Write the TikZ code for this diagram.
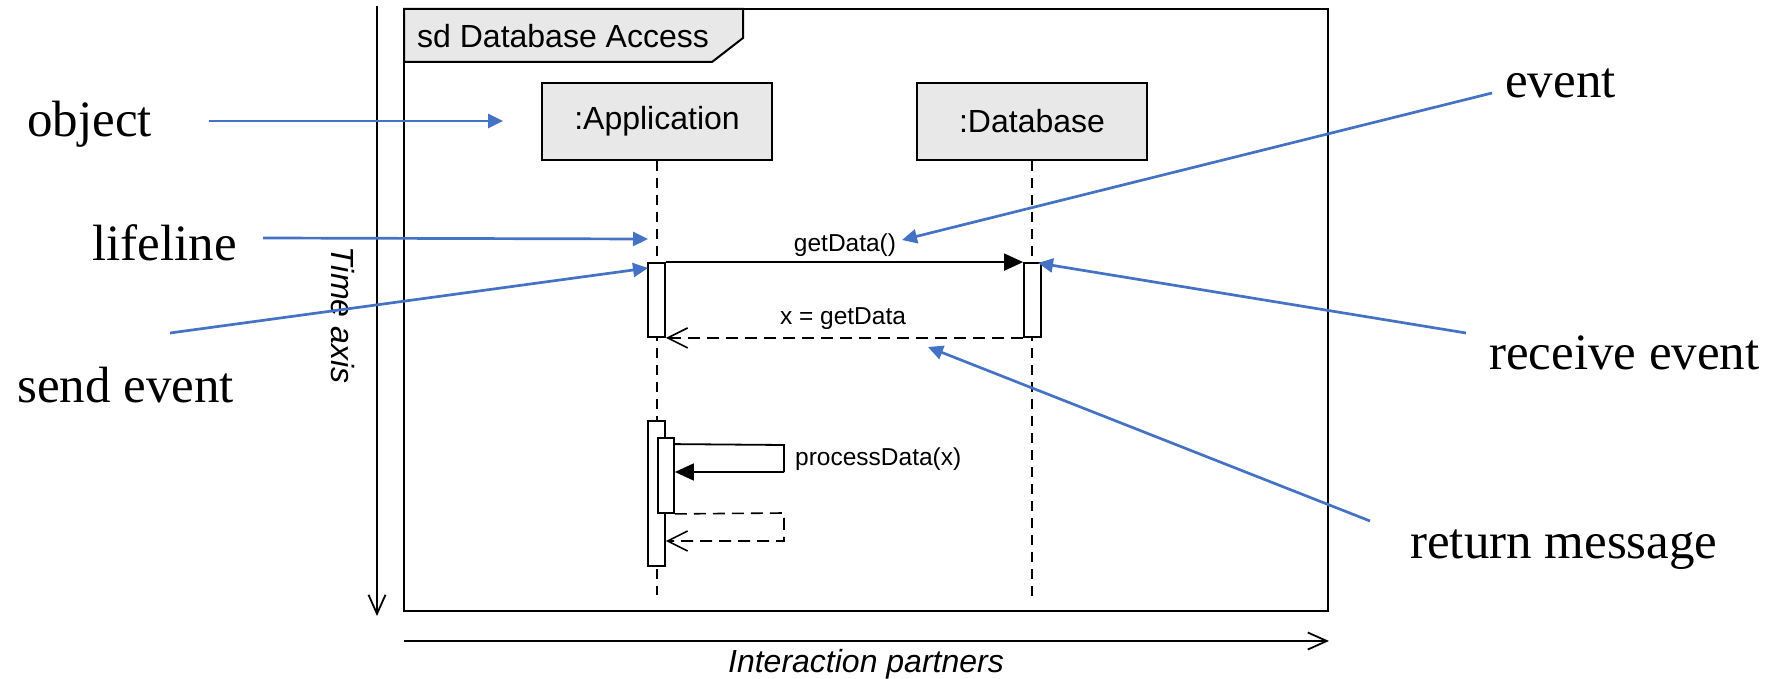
\documentclass[tikz,border=0pt]{standalone}
\usepackage{fontspec}
\setmainfont{Liberation Serif}
\newfontfamily\umlfont{Liberation Sans}
\usetikzlibrary{arrows.meta}

\definecolor{notecol}{RGB}{68,114,196}
\definecolor{boxgray}{RGB}{232,232,232}

\tikzset{
  umltext/.style={font=\umlfont\fontsize{32}{38}\selectfont, inner sep=0pt},
  msgtext/.style={font=\umlfont\fontsize{24.5}{29}\selectfont, inner sep=0pt},
  notetext/.style={font=\fontsize{51}{61}\selectfont, inner sep=0pt, anchor=base west},
  objbox/.style={draw, line width=2pt, fill=boxgray, minimum width=230pt, minimum height=77pt, inner sep=0pt,
    font=\umlfont\fontsize{32}{38}\selectfont},
  actbox/.style={draw, line width=1.8pt, fill=white, inner sep=0pt},
  lifelinestyle/.style={line width=1.8pt, dash pattern=on 10pt off 7pt},
  syncmsg/.style={line width=1.8pt, -{Triangle[length=19pt,width=17pt]}},
  retmsg/.style={line width=1.6pt, dash pattern=on 12pt off 7pt, -{Straight Barb[length=20pt,width=20pt,line width=1.6pt]}},
  selfmsg/.style={line width=1.8pt},
  axisline/.style={line width=1.8pt, -{Straight Barb[length=19pt,width=17pt,line width=1.8pt]}},
  notearrow/.style={notecol, line width=2.7pt, -{Triangle[length=15pt,width=14pt]}}
}

\begin{document}
\begin{tikzpicture}[x=1pt, y=-1pt]
\useasboundingbox (0,0) rectangle (1775,679);

% interaction frame and its name tab
\draw[line width=2pt] (404,9) rectangle (1328,611);
\draw[line width=2pt, fill=boxgray] (404,9) -- (743,9) -- (743,38) -- (712,62) -- (404,62) -- cycle;
\node[umltext, anchor=west] (title) at (417,36) {sd Database Access};

% participants
\node[objbox] (app) at (657,121.5) {:Application};
\node[objbox] (db) at (1032,121.5) {:Database};

% lifelines
\coordinate (appEnd) at (657,595);
\coordinate (dbEnd) at (1032,596);
\draw[lifelinestyle] (app.south) -- (appEnd);
\draw[lifelinestyle] (db.south) -- (dbEnd);

% execution specifications
\node[actbox, minimum width=17pt, minimum height=74pt] (act1) at (656.5,300) {};
\node[actbox, minimum width=17pt, minimum height=74pt] (act2) at (1032.5,300) {};
\node[actbox, minimum width=17pt, minimum height=145pt] (act3) at (656.5,493.5) {};
\node[actbox, minimum width=16pt, minimum height=75pt] (act4) at (666,475.5) {};

% call and reply between participants
\draw[syncmsg] (act1.north east) -- (act2.north west);
\node[msgtext] (getlbl) at (845,245) {getData()};
\draw[retmsg] (act2.south west) -- (act1.south east);
\node[msgtext] (retlbl) at (843,319) {x = getData};

% self call and its reply
\coordinate (sc1) at (784,445);
\coordinate (sc2) at (784,472);
\draw[selfmsg] ([yshift=-7pt]act4.north east) -- (sc1) -- (sc2);
\draw[syncmsg] (sc2) -- (act4.east |- sc2);
\node[msgtext, anchor=west] (proclbl) at (795,459) {processData(x)};
\coordinate (rc1) at (784,513);
\coordinate (rc2) at (784,541);
\draw[retmsg] (act4.south east) -- (rc1) -- (rc2) -- (act3.east |- rc2);

% axes
\coordinate (ta1) at (377,6);
\coordinate (ta2) at (377,616);
\draw[axisline] (ta1) -- (ta2);
\node[umltext, font=\umlfont\itshape\fontsize{32}{38}\selectfont, rotate=-90] (timelbl) at (343,315) {Time axis};
\coordinate (ia1) at (404,641);
\coordinate (ia2) at (1329,641);
\draw[axisline] (ia1) -- (ia2);
\node[umltext, font=\umlfont\itshape\fontsize{32}{38}\selectfont] (ialbl) at (866,664) {Interaction partners};

% annotations
\node[notetext] (nObject) at (27,137) {object};
\node[notetext] (nLifeline) at (92,260) {lifeline};
\node[notetext] (nSend) at (17,402) {send event};
\node[notetext] (nEvent) at (1505,98) {event};
\node[notetext] (nReceive) at (1489,369) {receive event};
\node[notetext] (nReturn) at (1410,558) {return message};

\coordinate (oS) at (209,121);  \coordinate (oT) at (503,121);
\coordinate (lS) at (263,238);  \coordinate (lT) at (648,239);
\coordinate (sS) at (170,333);  \coordinate (sT) at (648,268);
\coordinate (eS) at (1492,93);  \coordinate (eT) at (902,240);
\coordinate (rS) at (1466,333); \coordinate (rT) at (1038,263);
\coordinate (mS) at (1370,521); \coordinate (mT) at (928,347);

\draw[notearrow] (oS) -- (oT);
\draw[notearrow] (lS) -- (lT);
\draw[notearrow] (sS) -- (sT);
\draw[notearrow] (eS) -- (eT);
\draw[notearrow] (rS) -- (rT);
\draw[notearrow] (mS) -- (mT);
\end{tikzpicture}
\end{document}
